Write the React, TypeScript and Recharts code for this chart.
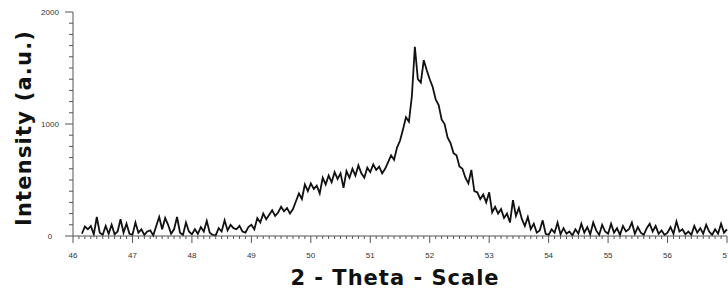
import { LineChart, Line, XAxis, YAxis, Label } from 'recharts';

// 2-theta grid of the scan (deg)
const thetaStart = 46.15;
const thetaStep = 0.05;

// intensity, one value per step
const intensity: number[] = [
    // 46.15 - 46.95
    20, 85, 60, 90, 15, 170, 30, 10, 90, 20, 100, 15, 40, 150, 30, 110, 20,
    // 47.00 - 47.95
    10, 120, 30, 60, 10, 40, 50, 5, 90, 170, 60, 160, 100, 20, 60, 170, 30, 10, 120, 40,
    // 48.00 - 48.95
    15, 60, 20, 80, 40, 135, 30, 10, 5, 70, 40, 140, 50, 100, 70, 60, 90, 40, 30, 80,
    // 49.00 - 49.95
    100, 60, 160, 120, 200, 150, 190, 230, 180, 210, 260, 220, 250, 200, 240, 310, 380, 330, 460, 400,
    // 50.00 - 50.95
    470, 420, 450, 380, 520, 460, 540, 480, 570, 510, 560, 430, 580, 520, 600, 540, 630, 560, 520, 610,
    // 51.00 - 51.95
    570, 640, 590, 620, 560, 600, 660, 720, 680, 790, 850, 950, 1060, 1020, 1250, 1690, 1400, 1370, 1570, 1480,
    // 52.00 - 52.95
    1400, 1330, 1220, 1170, 1040, 1000, 880, 830, 740, 720, 620, 600, 520, 470, 590, 400, 390, 330, 370, 300,
    // 53.00 - 53.95
    390, 210, 260, 200, 240, 160, 200, 120, 320, 180, 250, 150, 90, 170, 60, 110, 30, 50, 140, 20,
    // 54.00 - 54.95
    10, 60, 30, 120, 15, 70, 20, 40, 5, 60, 20, 110, 30, 80, 15, 120, 50, 10, 100, 40,
    // 55.00 - 55.95
    20, 110, 30, 70, 10, 90, 40, 60, 120, 20, 80, 30, 10, 70, 110, 40, 90, 20, 50, 10,
    // 56.00 - 57.00
    30, 80, 20, 130, 40, 60, 15, 40, 10, 90, 30, 70, 20, 100, 40, 10, 60, 20, 110, 30, 60,
];

const xTicks: number[] = Array.from({ length: 111 }, (_, i) => Number((46 + i / 10).toFixed(1)));
const yTicks: number[] = Array.from({ length: 21 }, (_, i) => i * 100);
const yLabels = [0, 1000, 2000];

const data = intensity.map((v, i) => ({
    theta: Number((thetaStart + i * thetaStep).toFixed(2)),
    intensity: v,
}));

const AXIS_X = 73;
const AXIS_Y = 236;
const FONT = '"Liberation Sans", Arial, sans-serif';
const TITLE_FONT = '"DejaVu Sans", Arial, sans-serif';

const XTick = (props: any) => {
    const { x, payload } = props;
    const major = Number.isInteger(payload.value);
    return (
        <g>
            <line x1={x} x2={x} y1={AXIS_Y} y2={AXIS_Y + (major ? 7 : 3)} stroke="#555" strokeWidth={1} />
            {major && (
                <text x={x} y={AXIS_Y + 22} textAnchor="middle" fontSize={8} fontFamily={FONT} fill="#333">
                    {payload.value}
                </text>
            )}
        </g>
    );
};

const YTick = (props: any) => {
    const { y, payload } = props;
    const major = yLabels.includes(payload.value);
    return (
        <g>
            <line x1={AXIS_X} x2={AXIS_X - (major ? 8 : 4)} y1={y} y2={y} stroke="#555" strokeWidth={1} />
            {major && (
                <text x={50} y={y + 3} textAnchor="middle" fontSize={8} fontFamily={FONT} fill="#333">
                    {payload.value}
                </text>
            )}
        </g>
    );
};

export default function App() {
    return (
        <div style={{ position: 'absolute', left: 0, top: 0, width: 728, height: 293, background: '#fff' }}>
            <LineChart width={728} height={293} data={data} margin={{ top: 12, right: 1, bottom: 17, left: 0 }}>
                <XAxis
                    dataKey="theta"
                    type="number"
                    domain={[46, 57]}
                    ticks={xTicks}
                    interval={0}
                    tick={<XTick />}
                    tickLine={false}
                    axisLine={{ stroke: '#555' }}
                    height={40}
                >
                    <Label
                        content={() => (
                            <text x={395} y={285} textAnchor="middle" fontSize={21} fontWeight="bold" letterSpacing={1} fontFamily={TITLE_FONT} fill="#111">
                                2 - Theta - Scale
                            </text>
                        )}
                    />
                </XAxis>
                <YAxis
                    type="number"
                    domain={[0, 2000]}
                    ticks={yTicks}
                    interval={0}
                    tick={<YTick />}
                    tickLine={false}
                    axisLine={{ stroke: '#555' }}
                    width={73}
                >
                    <Label
                        content={() => (
                            <text x={31} y={128} transform="rotate(-90 31 128)" textAnchor="middle" fontSize={21} fontWeight="bold" letterSpacing={1.2} fontFamily={TITLE_FONT} fill="#111">
                                Intensity (a.u.)
                            </text>
                        )}
                    />
                </YAxis>
                <Line
                    type="linear"
                    dataKey="intensity"
                    stroke="#111"
                    strokeWidth={1.8}
                    dot={false}
                    isAnimationActive={false}
                />
            </LineChart>
        </div>
    );
}
